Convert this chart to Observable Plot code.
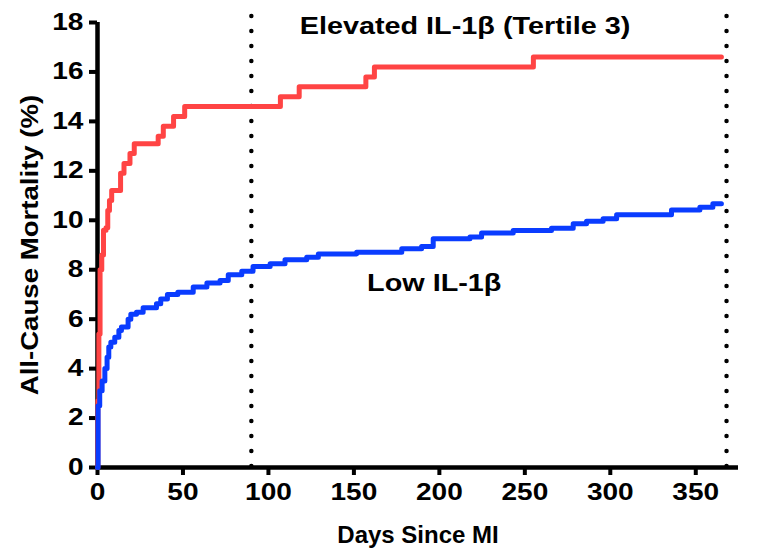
<!DOCTYPE html>
<html>
<head>
<meta charset="utf-8">
<script src="https://cdn.jsdelivr.net/npm/d3@7"></script>
<script src="https://cdn.jsdelivr.net/npm/@observablehq/plot@0.6"></script>
<style>
  html, body { margin: 0; padding: 0; background: #fff; }
</style>
</head>
<body>
<div id="chart"></div>
<script>
// Elevated IL-1β (Tertile 3): step times (days) and cumulative mortality (%)
const redDays = [0, 0.2, 0.8, 1.5, 2.5, 3.5, 5, 6, 7, 8.3, 13.5, 15.5, 19, 21.5, 35.5, 38.5, 44.5, 51, 107, 118, 157, 162, 255, 365];
const redPct  = [0, 2.7, 5.4, 8.0, 8.6, 9.6, 9.7, 10.4, 10.8, 11.2, 11.9, 12.3, 12.7, 13.1, 13.4, 13.8, 14.2, 14.6, 15.0, 15.4, 15.8, 16.2, 16.6, 16.6];

// Low IL-1β
const blueDays = [0, 0.35, 1.3, 2.7, 4.3, 5.6, 6.6, 7.8, 10.1, 12.5, 14, 17.9, 19.5, 22.8, 26.7, 34.5, 37, 40.9, 47, 56, 64, 71.7, 76.5, 84.4, 91, 101, 109.7, 122.4, 129.2, 151.6, 178, 189.6, 196.4, 217.9, 224.7, 243.2, 265.6, 278.3, 286.1, 295.8, 303.7, 335.8, 352.4, 360, 365];
const bluePct  = [0, 2.5, 3.1, 3.5, 4.0, 4.46, 4.87, 5.07, 5.27, 5.54, 5.68, 6.0, 6.2, 6.28, 6.46, 6.62, 6.82, 7.0, 7.09, 7.3, 7.46, 7.56, 7.8, 7.94, 8.13, 8.24, 8.4, 8.5, 8.64, 8.71, 8.85, 8.94, 9.25, 9.32, 9.49, 9.59, 9.68, 9.86, 9.96, 10.06, 10.22, 10.42, 10.53, 10.67, 10.67];

const xTicks = [0, 50, 100, 150, 200, 250, 300, 350];
const yTicks = [0, 2, 4, 6, 8, 10, 12, 14, 16, 18];
const landmarkDays = [90, 368];

const xLabel = "Days Since MI";
const yLabel = "All-Cause Mortality (%)";
const labelHigh = "Elevated IL-1β (Tertile 3)";
const labelLow = "Low IL-1β";

const red = redDays.map((d, i) => ({day: d, pct: redPct[i]}));
const blue = blueDays.map((d, i) => ({day: d, pct: bluePct[i]}));

const font = "'Liberation Sans', Arial, sans-serif";

const chart = Plot.plot({
  width: 757,
  height: 551,
  marginLeft: 97,
  marginRight: 19,
  marginTop: 22,
  marginBottom: 84,
  style: {fontFamily: font, fontWeight: "bold", color: "black", background: "white"},
  x: {domain: [0, 375]},
  y: {domain: [0, 18]},
  marks: [
    Plot.ruleX(landmarkDays, {y1: 0, y2: 18.35, stroke: "black", strokeWidth: 4.5, strokeDasharray: "0,15", strokeLinecap: "round", dy: -1}),
    Plot.axisY({ticks: yTicks, tickSize: 8, strokeWidth: 4, tickPadding: 6, fontSize: 23, fontWeight: "bold", label: null}),
    Plot.axisX({ticks: xTicks, tickSize: 8, strokeWidth: 4, tickPadding: 8, fontSize: 23, fontWeight: "bold", label: null}),
    Plot.ruleY([0], {stroke: "black", strokeWidth: 4.5}),
    Plot.ruleX([0], {y1: 0, y2: 18, stroke: "black", strokeWidth: 4.5}),
    Plot.line(red, {x: "day", y: "pct", curve: "step-after", stroke: "#FF4444", strokeWidth: 5}),
    Plot.line(blue, {x: "day", y: "pct", curve: "step-after", stroke: "#0A3CFF", strokeWidth: 5}),
    Plot.text([labelHigh], {x: 215, y: 17.85, fontSize: 24, fontWeight: "bold", fill: "black", lineAnchor: "middle"}),
    Plot.text([labelLow], {x: 197, y: 7.45, fontSize: 24, fontWeight: "bold", fill: "black", lineAnchor: "middle"}),
    Plot.text([xLabel], {frameAnchor: "bottom", dy: 68, fontSize: 24, fontWeight: "bold", fill: "black", lineAnchor: "middle", textAnchor: "middle"}),
    Plot.text([yLabel], {frameAnchor: "left", dx: -67, rotate: -90, fontSize: 24, fontWeight: "bold", fill: "black", textAnchor: "middle", lineAnchor: "middle"})
  ]
});
document.getElementById("chart").appendChild(chart);

// The reference uses a horizontally stretched bold sans; widen glyphs around their anchor.
function stretch(el, k) {
  const b = el.getBBox();
  const anchor = getComputedStyle(el).textAnchor;
  const cx = anchor === "end" ? b.x + b.width : anchor === "middle" ? b.x + b.width / 2 : b.x;
  const t = el.getAttribute("transform") || "";
  el.setAttribute("transform", `${t} translate(${cx},0) scale(${k},1) translate(${-cx},0)`);
}
chart.querySelectorAll("text").forEach(el => {
  const s = el.textContent;
  let k = 1.22;
  if (s === xLabel) k = 1.0;
  else if (s === yLabel) k = 1.15;
  else if (s === labelHigh) k = 1.2;
  else if (s === labelLow) k = 1.2;
  stretch(el, k);
});
</script>
</body>
</html>
